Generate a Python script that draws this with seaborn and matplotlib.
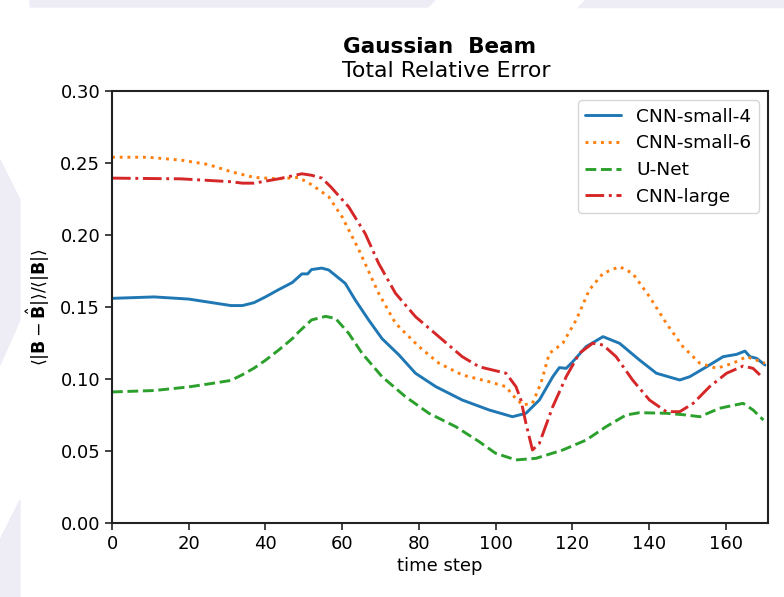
import matplotlib
matplotlib.use("Agg")
import matplotlib.pyplot as plt
import seaborn as sns
from matplotlib.patches import Polygon

# ---- data ----
x_small4 = [0, 11, 20, 31, 34, 37, 40, 43.4, 47, 49.5, 51, 52, 54.7, 56.5, 60.8, 63.4, 66.9,
            70.4, 74.8, 79.1, 84.4, 91.3, 98.3, 104.4, 107.9, 111.4, 114.9, 116.6, 118.4,
            120.1, 123.6, 128, 132.3, 137.5, 141.9, 148, 150.6, 155, 159.3, 162.8, 165,
            166.3, 168, 170.2]
y_small4 = [0.156, 0.157, 0.1555, 0.151, 0.151, 0.153, 0.157, 0.162, 0.167, 0.173, 0.173,
            0.176, 0.177, 0.1757, 0.1664, 0.1549, 0.141, 0.128, 0.1167, 0.104, 0.0947,
            0.0854, 0.0785, 0.0738, 0.0762, 0.0854, 0.1016, 0.1079, 0.1074, 0.112, 0.1225,
            0.1294, 0.1248, 0.1132, 0.104, 0.0993, 0.1016, 0.1085, 0.1155, 0.1171, 0.1194,
            0.1155, 0.1144, 0.1097]

x_small6 = [0, 9.4, 18, 25, 31, 37, 43.4, 48.6, 52, 56.5, 60, 64.3, 69.5, 73.9, 80, 85.2,
            91.3, 98.3, 102.7, 104.4, 107, 109.6, 111.8, 114, 117.5, 121, 124.4, 128, 132.3,
            135.7, 140.1, 144.5, 148.8, 153.2, 157.6, 161.9, 165.4, 170.2]
y_small6 = [0.254, 0.254, 0.252, 0.249, 0.244, 0.240, 0.239, 0.240, 0.235, 0.2265, 0.2125,
            0.190, 0.1595, 0.1387, 0.1225, 0.111, 0.1028, 0.0981, 0.0947, 0.0889, 0.082,
            0.0831, 0.097, 0.1178, 0.1248, 0.141, 0.1618, 0.1734, 0.178, 0.1734, 0.1572,
            0.1387, 0.1225, 0.111, 0.1074, 0.111, 0.1155, 0.111]

x_unet = [0, 11, 20, 25, 31, 34, 37, 40, 43.4, 47, 48.6, 52, 55.7, 58.3, 61.7, 65.2, 70.4,
          76.5, 82.6, 89.6, 95.7, 100, 105.3, 110.5, 117.5, 123.6, 128.8, 134, 137.5, 144.5,
          149.7, 153.2, 158.4, 164.5, 167.1, 169.8]
y_unet = [0.091, 0.092, 0.0945, 0.0965, 0.099, 0.103, 0.1075, 0.113, 0.120, 0.128, 0.1325,
          0.141, 0.1435, 0.142, 0.1317, 0.1178, 0.1016, 0.0877, 0.0762, 0.0669, 0.0565,
          0.0484, 0.0438, 0.0449, 0.0507, 0.0576, 0.0669, 0.075, 0.0766, 0.0762, 0.075,
          0.0738, 0.0797, 0.0831, 0.0785, 0.0715]

x_large = [0, 18, 31, 34, 37, 43.4, 46, 49.5, 52, 54.7, 57, 61.7, 66, 69.5, 73.9, 79.1,
           85.2, 91.3, 95.7, 102.7, 105.3, 106.6, 107.9, 109.6, 111.4, 114.9, 118.4, 121.8,
           125.3, 128, 131.4, 135.7, 140.1, 144.5, 148, 151.5, 155.8, 160.2, 164.5, 167.1,
           168.9]
y_large = [0.2395, 0.239, 0.237, 0.236, 0.236, 0.239, 0.2405, 0.2425, 0.2415, 0.2395,
           0.2335, 0.2195, 0.201, 0.1803, 0.1595, 0.1433, 0.1294, 0.1155, 0.1085, 0.104,
           0.0947, 0.0854, 0.0692, 0.0507, 0.0553, 0.0808, 0.1016, 0.1178, 0.1248, 0.1236,
           0.1155, 0.0993, 0.0854, 0.0773, 0.0773, 0.0831, 0.0947, 0.104, 0.109, 0.1074,
           0.1028]

labels = ["CNN-small-4", "CNN-small-6", "U-Net", "CNN-large"]
x_ticks = [0, 20, 40, 60, 80, 100, 120, 140, 160]
y_ticks = [0.00, 0.05, 0.10, 0.15, 0.20, 0.25, 0.30]

# ---- plot ----
sns.set_theme(style="ticks")
plt.rcParams['font.family'] = ['DejaVu Sans']
plt.rcParams['text.color'] = 'black'
plt.rcParams['axes.labelcolor'] = 'black'
plt.rcParams['xtick.color'] = 'black'
plt.rcParams['ytick.color'] = 'black'

fig = plt.figure(figsize=(7.84, 5.97), dpi=100)
fig.patch.set_facecolor("white")

# decorative background shapes
bg = "#EEEDF6"
fig.patches.append(Polygon([[30/784, 1], [435/784, 1], [428/784, 1-7/597], [30/784, 1-7/597]],
                           closed=True, transform=fig.transFigure, color=bg, zorder=0))
fig.patches.append(Polygon([[585/784, 1], [784/784, 1], [784/784, 1-7/597], [578/784, 1-7/597]],
                           closed=True, transform=fig.transFigure, color=bg, zorder=0))
fig.patches.append(Polygon([[0, 1-160/597], [20/784, 1-200/597], [20/784, 1-320/597],
                            [0, 1-365/597]],
                           closed=True, transform=fig.transFigure, color=bg, zorder=0))
fig.patches.append(Polygon([[0, 1-540/597], [20/784, 1-500/597], [20/784, 0], [0, 0]],
                           closed=True, transform=fig.transFigure, color=bg, zorder=0))

ax = fig.add_axes([112/784, 1-523/597, (768-112)/784, (523-91)/597])

pal = sns.color_palette("tab10")
lw = 2.1
sns.lineplot(x=x_small4, y=y_small4, ax=ax, color=pal[0], linestyle="-", lw=lw, label=labels[0])
sns.lineplot(x=x_small6, y=y_small6, ax=ax, color=pal[1], linestyle=":", lw=lw, label=labels[1])
sns.lineplot(x=x_unet, y=y_unet, ax=ax, color=pal[2], linestyle="--", lw=lw, label=labels[2])
sns.lineplot(x=x_large, y=y_large, ax=ax, color=pal[3], linestyle="-.", lw=lw, label=labels[3])

ax.set_xlim(0, 171)
ax.set_ylim(0, 0.30)
ax.set_xticks(x_ticks)
ax.set_yticks(y_ticks)
ax.set_yticklabels([f"{v:.2f}" for v in y_ticks])
ax.tick_params(labelsize=13, length=5, width=1.2, color="#222222")
for s in ax.spines.values():
    s.set_visible(True)
    s.set_linewidth(1.5)
    s.set_color("#222222")

ax.set_xlabel("time step", fontsize=13, labelpad=3)
ax.set_ylabel(r"$\langle|\mathbf{B}-\hat{\mathbf{B}}|\rangle/\langle|\mathbf{B}|\rangle$",
              fontsize=12.5, labelpad=6)

fig.text(440 / 784, 1 - 47/597, "Gaussian  Beam", ha="center", va="center",
         fontsize=15.5, fontweight="bold")
fig.text(446 / 784, 1 - 71/597, "Total Relative Error", ha="center", va="center",
         fontsize=15.8)

leg = ax.legend(loc="upper right", fontsize=13.3, frameon=True, fancybox=True,
                handlelength=1.95, borderpad=0.4, labelspacing=0.47, handletextpad=0.8)
leg.get_frame().set_edgecolor("#cccccc")

fig.savefig("out.png", dpi=100)
